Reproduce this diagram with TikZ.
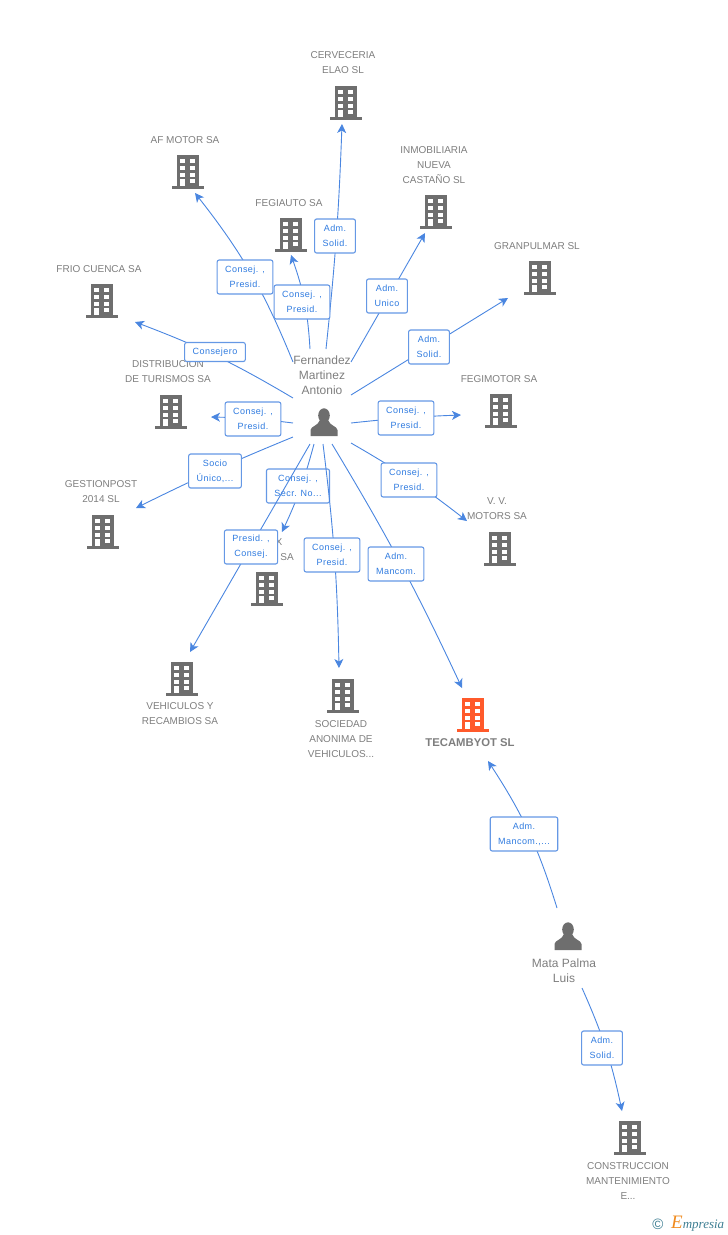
\documentclass[tikz,border=0pt]{standalone}
\usepackage{fontspec}
\setmainfont{Liberation Sans}
\newfontfamily\logofont{Liberation Serif}
\usetikzlibrary{arrows.meta}
\definecolor{iconGrey}{HTML}{6E6E6E}
\definecolor{targetRed}{HTML}{FF5A2B}
\definecolor{linkBlue}{HTML}{4A86E0}
\definecolor{roleBlue}{HTML}{2F7BE0}
\definecolor{nameGrey}{HTML}{7E7E7E}
\definecolor{logoTeal}{HTML}{3F7F93}
\definecolor{logoOrange}{HTML}{F08A1D}
\tikzset{
    pics/building/.style={code={
        \fill[#1] (-11,-16) rectangle (11,15);
        \fill[#1] (-16,15) rectangle (16,17.5);
        \fill[white] (-7.7,-12.5) rectangle (-3,-8.5);
        \fill[white] (2.3,-12.5) rectangle (7,-8.5);
        \fill[white] (-7.7,-5.5) rectangle (-3,-1.5);
        \fill[white] (2.3,-5.5) rectangle (7,-1.5);
        \fill[white] (-7.7,1.5) rectangle (-3,5.5);
        \fill[white] (2.3,1.5) rectangle (7,5.5);
        \fill[white] (-7.7,8) rectangle (-3,15);
        \fill[white] (2.3,8) rectangle (7,12);
    }},
    pics/building/.default=iconGrey,
    pics/person/.style={code={
        \fill[iconGrey] (0,-7.5) ellipse (5.8 and 7.2);
        \fill[iconGrey] (-13.5,13) -- (-13.5,7) .. controls (-13,3) and (-6,3) .. (-4,-3)
            -- (4,-3) .. controls (6,3) and (13,3) .. (13.5,7) -- (13.5,13) -- cycle;
    }}
}
\begin{document}
\begin{tikzpicture}
            [
            x=1pt,y=-1pt,
            company/.style={font={\fontsize{10}{15}\selectfont},text=nameGrey,align=center,inner sep=0pt},
            target/.style={font={\fontsize{11.3}{15}\selectfont\bfseries},text=nameGrey,align=center,inner sep=0pt},
            owner/.style={font={\fontsize{12}{15}\selectfont},text=nameGrey,align=center,inner sep=0pt},
            role/.style={draw=linkBlue!85,line width=1.1pt,rounded corners=2pt,fill=white,
                font={\fontsize{9}{15}\selectfont\addfontfeatures{LetterSpace=5}},text=roleBlue,
                align=center,inner xsep=8pt,inner ysep=0pt,minimum height=34pt},
            link/.style={draw=linkBlue,line width=.9pt,-{Stealth[length=9pt,width=9pt,inset=2.5pt]}},
            ]
            \useasboundingbox (0,0) rectangle (728,1235);

            % Companies
            \pic at (346,102) {building};
            \node[company] (cerveceria) at (343,63) {CERVECERIA\\ELAO SL};
            \pic at (188,171) {building};
            \node[company] (afmotor) at (185,140) {AF MOTOR SA};
            \pic at (291,234) {building};
            \node[company] (fegiauto) at (289,203) {FEGIAUTO SA};
            \pic at (436,211) {building};
            \node[company] (inmobiliaria) at (434,165) {INMOBILIARIA\\NUEVA\\CASTAÑO SL};
            \pic at (540,277) {building};
            \node[company] (granpulmar) at (537,246) {GRANPULMAR SL};
            \pic at (102,300) {building};
            \node[company] (friocuenca) at (99,269) {FRIO CUENCA SA};
            \pic at (171,411) {building};
            \node[company] (distribucion) at (168,372) {DISTRIBUCION\\DE TURISMOS SA};
            \pic at (501,410) {building};
            \node[company] (fegimotor) at (499,379) {FEGIMOTOR SA};
            \pic at (103,531) {building};
            \node[company] (gestionpost) at (101,492) {GESTIONPOST\\2014  SL};
            \pic at (500,548) {building};
            \node[company] (vvmotors) at (497,509) {V. V.\\MOTORS SA};
            \pic at (267,588) {building};
            \node[company] (hiddenx) at (279,542) {X};
            \node[company] (hiddensa) at (287,557) {SA};
            \pic at (182,678) {building};
            \node[company] (vehiculos) at (180,714) {VEHICULOS Y\\RECAMBIOS SA};
            \pic at (343,695) {building};
            \node[company] (sociedad) at (341,739) {SOCIEDAD\\ANONIMA DE\\VEHICULOS...};
            \pic at (473,714) {building=targetRed};
            \node[target] (tecambyot) at (470,743) {TECAMBYOT SL};
            \pic at (630,1137) {building};
            \node[company] (construccion) at (628,1181) {CONSTRUCCION\\MANTENIMIENTO\\E...};

            % People
            \pic at (324,423) {person};
            \node[owner] (fernandez) at (322,375) {Fernandez\\Martinez\\Antonio};
            \pic at (568,937) {person};
            \node[owner] (mata) at (564,971) {Mata Palma\\Luis};

            % Connector ends
            \coordinate (fCerveceria) at (326,349);
            \coordinate (tCerveceria) at (342,124);
            \coordinate (fAfmotor) at (293,362);
            \coordinate (tAfmotor) at (195,193);
            \coordinate (fFegiauto) at (310,349);
            \coordinate (tFegiauto) at (291,255);
            \coordinate (fInmobiliaria) at (351,362);
            \coordinate (tInmobiliaria) at (425,233);
            \coordinate (fGranpulmar) at (351,395);
            \coordinate (tGranpulmar) at (508,298);
            \coordinate (fFrio) at (293,398);
            \coordinate (tFrio) at (135,322);
            \coordinate (fDistribucion) at (293,423);
            \coordinate (tDistribucion) at (211,417);
            \coordinate (fFegimotor) at (351,423);
            \coordinate (tFegimotor) at (461,415);
            \coordinate (fVvmotors) at (351,443);
            \coordinate (tVvmotors) at (467,521);
            \coordinate (fGestionpost) at (293,437);
            \coordinate (tGestionpost) at (136,508);
            \coordinate (fHidden) at (314,444);
            \coordinate (tHidden) at (282,532);
            \coordinate (fVehiculos) at (310,444);
            \coordinate (tVehiculos) at (190,652);
            \coordinate (fSociedad) at (323,444);
            \coordinate (tSociedad) at (339,668);
            \coordinate (fTecambyot) at (332,444);
            \coordinate (tTecambyot) at (462,688);
            \coordinate (fMata) at (557,908);
            \coordinate (tMata) at (488,761);
            \coordinate (fConstruccion) at (582,988);
            \coordinate (tConstruccion) at (622,1111);

            % Roles, each one over its own connector
            \draw[link] (fCerveceria) to[bend right=2] (tCerveceria);
            \node[role] (admSolidA) at (335,236) {Adm.\\Solid.};
            \draw[link] (fAfmotor) to[bend right=8] (tAfmotor);
            \node[role] (presidA) at (245,277) {Consej. ,\\Presid.};
            \draw[link] (fFegiauto) to[bend right=8] (tFegiauto);
            \node[role] (presidB) at (302,302) {Consej. ,\\Presid.};
            \draw[link] (fInmobiliaria) -- (tInmobiliaria);
            \node[role] (admUnico) at (387,296) {Adm.\\Unico};
            \draw[link] (fGranpulmar) -- (tGranpulmar);
            \node[role] (admSolidB) at (429,347) {Adm.\\Solid.};
            \draw[link] (fFrio) to[bend right=5] (tFrio);
            \node[role,minimum height=19pt] (consejero) at (215,352) {Consejero};
            \draw[link] (fDistribucion) to[bend right=3] (tDistribucion);
            \node[role] (presidC) at (253,419) {Consej. ,\\Presid.};
            \draw[link] (fFegimotor) to[bend left=2] (tFegimotor);
            \node[role] (presidD) at (406,418) {Consej. ,\\Presid.};
            \draw[link] (fVvmotors) to[bend left=4] (tVvmotors);
            \node[role] (presidE) at (409,480) {Consej. ,\\Presid.};
            \draw[link] (fGestionpost) to[bend right=2] (tGestionpost);
            \node[role] (socio) at (215,471) {Socio\\Único,...};
            \draw[link] (fHidden) to[bend left=5] (tHidden);
            \node[role] (secr) at (298,486) {Consej. ,\\Secr. No...};
            \draw[link] (fVehiculos) -- (tVehiculos);
            \node[role] (consejA) at (251,547) {Presid. ,\\Consej.};
            \draw[link] (fSociedad) to[bend left=3] (tSociedad);
            \node[role] (presidF) at (332,555) {Consej. ,\\Presid.};
            \draw[link] (fTecambyot) to[bend left=3] (tTecambyot);
            \node[role] (mancomA) at (396,564) {Adm.\\Mancom.};
            \draw[link] (fMata) to[bend right=8] (tMata);
            \node[role] (mancomB) at (524,834) {Adm.\\Mancom.,...};
            \draw[link] (fConstruccion) to[bend left=6] (tConstruccion);
            \node[role] (admSolidC) at (602,1048) {Adm.\\Solid.};

            % Logo
            \node[text=logoTeal,font={\fontsize{15}{15}\selectfont},inner sep=0pt] (logoc) at (658,1224) {©};
            \node[anchor=west,inner sep=0pt,font={\logofont\itshape\fontsize{13}{15}\selectfont},text=logoTeal] (logo) at (671,1224)
                {\textcolor{logoOrange}{\fontsize{19}{15}\selectfont E}mpresia};
        \end{tikzpicture}
\end{document}
